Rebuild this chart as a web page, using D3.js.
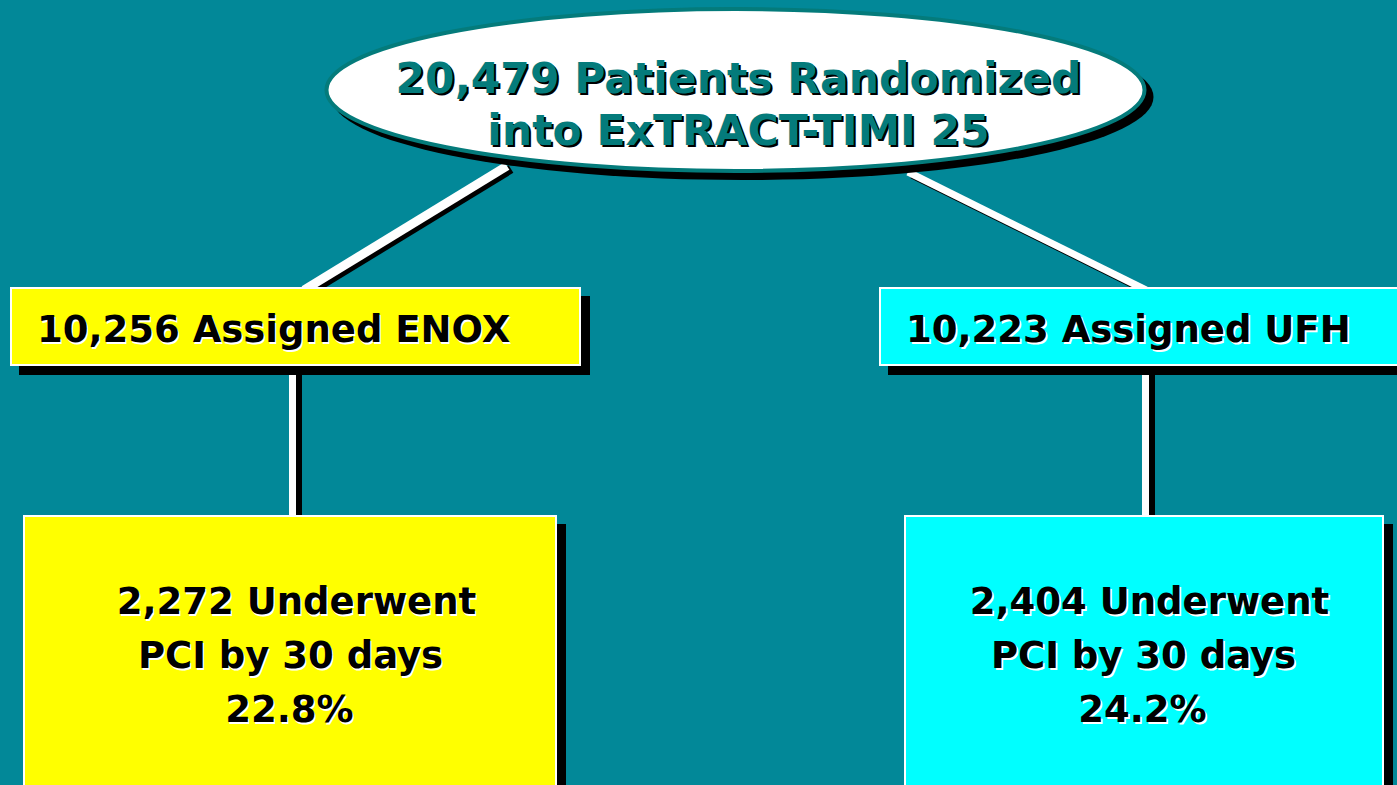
<!DOCTYPE html>
<html><head><meta charset="utf-8">
<script src="https://cdn.jsdelivr.net/npm/d3@7"></script>
<style>html,body{margin:0;padding:0;background:#028898;overflow:hidden}</style>
</head><body>
<svg id="c" width="1397" height="785"></svg>
<script>
// ---- data ----
const trialName = "ExTRACT-TIMI 25";
const totalRandomized = 20479;
const arms = ["ENOX", "UFH"];
const assigned = [10256, 10223];
const pciCounts = [2272, 2404];
const pciPercent = [22.8, 24.2];
const pciDays = 30;

// ---- drawing ----
const W = 1397, H = 785;
const svg = d3.select("#c");
const fmt = d3.format(",");
const bg = "#028898", teal = "#047b7b";
const armFill = ["#ffff00", "#00ffff"];
const font = "'DejaVu Sans', Verdana, sans-serif";

svg.append("rect").attr("width", W).attr("height", H).attr("fill", bg);

// layout scales (band per arm)
const x1 = d3.scaleOrdinal().domain(arms).range([[10, 581], [879, 1410]]);
const x2 = d3.scaleOrdinal().domain(arms).range([[23, 557], [904, 1384]]);
const vline = d3.scaleOrdinal().domain(arms).range([292.5, 1145.5]);

// connectors from ellipse to arm boxes
const diag = [[[507, 166], [304, 290]], [[908, 172], [1146, 290]]];
const diagW = [9, 7];
diag.forEach((d, i) => {
  svg.append("line").attr("x1", d[0][0] + 4).attr("y1", d[0][1] + 3).attr("x2", d[1][0] + 4).attr("y2", d[1][1] + 3)
    .attr("stroke", "#000").attr("stroke-width", diagW[i]);
  svg.append("line").attr("x1", d[0][0]).attr("y1", d[0][1]).attr("x2", d[1][0]).attr("y2", d[1][1])
    .attr("stroke", "#fff").attr("stroke-width", diagW[i]);
});

// ellipse
const E = {cx: 735.5, cy: 90, rx: 409, ry: 81};
svg.append("ellipse").attr("cx", E.cx + 7).attr("cy", E.cy + 7).attr("rx", E.rx + 2).attr("ry", E.ry + 2).attr("fill", "#000");
svg.append("ellipse").attr("cx", E.cx).attr("cy", E.cy).attr("rx", E.rx).attr("ry", E.ry)
  .attr("fill", "#fff").attr("stroke", teal).attr("stroke-width", 4);
const eLines = [fmt(totalRandomized) + " Patients Randomized", "into " + trialName];
const eBase = [93, 145];
eLines.forEach((t, i) => {
  [["#000", 2, 2], [teal, 0, 0]].forEach(([c, dx, dy]) => {
    svg.append("text").attr("x", 738.5 + dx).attr("y", eBase[i] + dy).attr("text-anchor", "middle")
      .attr("font-family", font).attr("font-weight", "bold").attr("font-size", 42.5).attr("fill", c).text(t);
  });
});

// vertical connectors
arms.forEach((a, i) => {
  const x = vline(a);
  const y0 = i === 0 ? 366 : 357;
  svg.append("rect").attr("x", x + 3.5).attr("y", y0 + 6).attr("width", 6).attr("height", 515 - y0 - 6).attr("fill", "#000");
  svg.append("rect").attr("x", x - 3.5).attr("y", y0).attr("width", 7).attr("height", 515 - y0).attr("fill", "#fff");
});

function box(x0, x1v, y0, y1, fill) {
  svg.append("rect").attr("x", x0 + 9).attr("y", y0 + 9).attr("width", x1v - x0).attr("height", y1 - y0).attr("fill", "#000");
  svg.append("rect").attr("x", x0 + 1).attr("y", y0 + 1).attr("width", x1v - x0 - 2).attr("height", y1 - y0 - 2)
    .attr("fill", fill).attr("stroke", "#fff").attr("stroke-width", 2);
}
function label(x, y, t, anchor) {
  svg.append("text").attr("x", x + 1.5).attr("y", y + 1.5).attr("text-anchor", anchor)
    .attr("font-family", font).attr("font-weight", "bold").attr("font-size", 37).attr("fill", "#fff").text(t);
  svg.append("text").attr("x", x).attr("y", y).attr("text-anchor", anchor)
    .attr("font-family", font).attr("font-weight", "bold").attr("font-size", 37).attr("fill", "#000").text(t);
}

arms.forEach((a, i) => {
  const [l, r] = x1(a);
  box(l, r, 287, 366, armFill[i]);
  label(l + 27, 342, fmt(assigned[i]) + " Assigned " + a, "start");
});

const lineShift = [5, -1, -2];
arms.forEach((a, i) => {
  const [l, r] = x2(a);
  box(l, r, 515, 800, armFill[i]);
  const cx = vline(a) - 1;
  const lines = [fmt(pciCounts[i]) + " Underwent", "PCI by " + pciDays + " days", pciPercent[i].toFixed(1) + "%"];
  lines.forEach((t, j) => label(cx + lineShift[j], 614 + j * 54, t, "middle"));
});
</script>
</body></html>
